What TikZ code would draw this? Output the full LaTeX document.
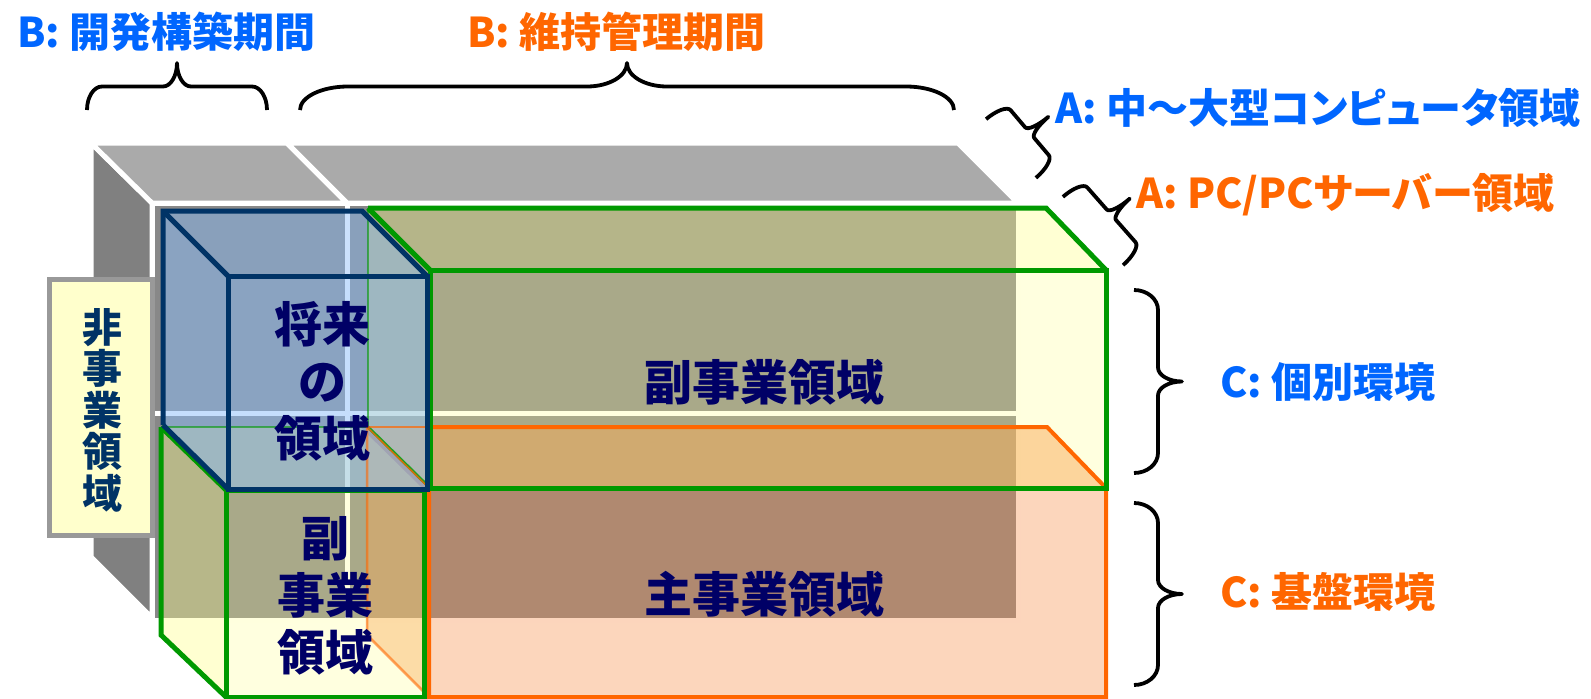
\documentclass[tikz,border=0pt]{standalone}
\usepackage{fontspec}
\newfontfamily\jp{Noto Sans CJK JP}
\newfontfamily\jpp[RawFeature=+palt]{Noto Sans CJK JP}
\definecolor{gLeft}{RGB}{128,128,128}
\definecolor{gTop}{RGB}{170,170,170}
\definecolor{gFront}{RGB}{136,136,136}
\definecolor{lblFill}{RGB}{255,255,204}
\definecolor{lblEdge}{RGB}{153,153,153}
\definecolor{oFill}{RGB}{247,140,70}
\definecolor{gFill}{RGB}{255,255,140}
\definecolor{bFill}{RGB}{140,190,250}
\definecolor{oEdge}{RGB}{255,102,0}
\definecolor{gEdge}{RGB}{0,153,0}
\definecolor{bEdge}{RGB}{0,51,102}
\definecolor{navyT}{RGB}{0,0,102}
\definecolor{navyL}{RGB}{0,51,102}
\definecolor{blueT}{RGB}{0,102,255}
\definecolor{orangeT}{RGB}{255,102,0}
\tikzset{
  grayface/.style={draw=white, line width=5pt},
  bracestyle/.style={draw=black, line width=3.8pt, line join=round},
  boxtext/.style={text=navyT, align=center, inner sep=0pt, font={\jp\bfseries\fontsize{48}{57}\selectfont}},
  lbl/.style={anchor=west, inner sep=0pt, font={\jp\bfseries\fontsize{41}{41}\selectfont}},
  lblp/.style={anchor=west, inner sep=0pt, font={\jpp\bfseries\fontsize{41}{41}\selectfont}},
  oline/.style={draw=oEdge, line width=4pt},
  gline/.style={draw=gEdge, line width=5pt},
  bline/.style={draw=bEdge, line width=5pt}
}
% cx, cy, angle, length, amplitude, end curl, middle curl
\newcommand{\drawbrace}[7]{%
  \pgfmathsetmacro\brEa{-(#4)/2}%
  \pgfmathsetmacro\brEb{-(#4)/2+0.448*(#6)}%
  \pgfmathsetmacro\brEc{-(#4)/2+(#6)}%
  \pgfmathsetmacro\brFa{(#4)/2}%
  \pgfmathsetmacro\brFb{(#4)/2-0.448*(#6)}%
  \pgfmathsetmacro\brFc{(#4)/2-(#6)}%
  \pgfmathsetmacro\brMl{-(#7)}%
  \pgfmathsetmacro\brMlb{-0.448*(#7)}%
  \pgfmathsetmacro\brMr{(#7)}%
  \pgfmathsetmacro\brMrb{0.448*(#7)}%
  \pgfmathsetmacro\brVa{-0.552*(#5)/2}%
  \pgfmathsetmacro\brVh{-(#5)/2}%
  \pgfmathsetmacro\brVt{-(#5)/2-0.448*(#5)/2}%
  \pgfmathsetmacro\brVtip{-(#5)}%
  \begin{scope}[shift={(#1,#2)}, rotate=#3]
    \draw[bracestyle] (\brEa,0) .. controls (\brEa,\brVa) and (\brEb,\brVh) .. (\brEc,\brVh)
      -- (\brMl,\brVh) .. controls (\brMlb,\brVh) and (0,\brVt) .. (0,\brVtip)
      .. controls (0,\brVt) and (\brMrb,\brVh) .. (\brMr,\brVh)
      -- (\brFc,\brVh) .. controls (\brFb,\brVh) and (\brFa,\brVa) .. (\brFa,0);
  \end{scope}}
\begin{document}
\begin{tikzpicture}[x=1pt,y=-1pt]
\useasboundingbox (0,0) rectangle (1591,699);
% ---- gray back structure
\filldraw[fill=gLeft, grayface] (91,143) -- (152,203) -- (152,618) -- (91,557) -- cycle;
\filldraw[fill=gTop, grayface] (91,143) -- (287,143) -- (347,203) -- (152,203) -- cycle;
\filldraw[fill=gTop, grayface] (287,143) -- (958,143) -- (1018,203) -- (347,203) -- cycle;
\filldraw[fill=gFront, grayface] (152,203) rectangle (347,413);
\filldraw[fill=gFront, grayface] (347,203) rectangle (1018,413);
\filldraw[fill=gFront, grayface] (152,413) rectangle (347,620);
\filldraw[fill=gFront, grayface] (347,413) rectangle (1018,620);
% ---- label box
\filldraw[fill=lblFill, draw=lblEdge, line width=5pt] (49.5,279.5) rectangle (152.5,535.5);
\node[text=navyL, align=center, inner sep=0pt, font={\jp\bfseries\fontsize{40}{41.5}\selectfont}] (nonbiz) at (102,410) {非\\事\\業\\領\\域};
% ---- orange box (main business)
\fill[oFill, fill opacity=0.36] (429,488) rectangle (1106,697);
\fill[oFill, fill opacity=0.5] (367,427) -- (1047,427) -- (1106,488) -- (429,488) -- cycle;
\fill[oFill, fill opacity=0.42] (367,427) -- (429,488) -- (429,697) -- (367,635) -- cycle;
% ---- lower green box
\fill[gFill, fill opacity=0.28] (226,490) rectangle (424,697);
\fill[gFill, fill opacity=0.35] (161,427) -- (360,427) -- (424,490) -- (226,490) -- cycle;
\fill[gFill, fill opacity=0.4] (161,427) -- (226,490) -- (226,697) -- (161,635) -- cycle;
% ---- upper green box
\fill[gFill, fill opacity=0.28] (430,270) rectangle (1106,488);
\fill[gFill, fill opacity=0.38] (368,208) -- (1046,208) -- (1106,270) -- (430,270) -- cycle;
\fill[gFill, fill opacity=0.35] (368,208) -- (430,270) -- (430,488) -- (368,427) -- cycle;
% ---- blue cube
\fill[bFill, fill opacity=0.5] (228,276) rectangle (427,489);
\fill[bFill, fill opacity=0.45] (163,211) -- (362,211) -- (427,276) -- (228,276) -- cycle;
\fill[bFill, fill opacity=0.5] (163,211) -- (228,276) -- (228,489) -- (163,425) -- cycle;
% ---- faint (hidden) edges
\draw[draw=gEdge, line width=2pt, opacity=0.6] (368,208) -- (368,427);
\draw[draw=gEdge, line width=2pt, opacity=0.6] (161,427) -- (368,427);
\draw[draw=gEdge, line width=3pt, opacity=0.8] (368,427) -- (430,488);
\draw[draw=oEdge, line width=2pt, opacity=0.7] (367,427) -- (430,427);
\draw[draw=oEdge, line width=1.5pt, opacity=0.8] (367,427) -- (429,488);
\draw[draw=oEdge, line width=2.5pt, opacity=0.6] (367,427) -- (367,635) -- (429,697);
% ---- strong edges
\draw[oline] (430,427) -- (1047,427) -- (1106,488) -- (1106,697) -- (429,697) -- (429,488) -- (1106,488);
\draw[gline] (226,490) rectangle (424,697);
\draw[gline] (161,427) -- (226,490);
\draw[gline] (161,427) -- (161,635) -- (226,697);
\draw[gline] (430,270) rectangle (1106,488);
\draw[gline] (368,208) -- (1046,208) -- (1106,270);
\draw[gline] (368,208) -- (430,270);
\draw[bline] (228,276) rectangle (427,489);
\draw[bline] (163,425) -- (163,211) -- (362,211) -- (427,276);
\draw[bline] (163,211) -- (228,276);
\draw[bline] (163,425) -- (228,489);
% ---- box texts
\node[boxtext] (future) at (322,381) {将来\\の\\領域};
\node[boxtext] (subleft) at (325,596) {副\\事業\\領域};
\node[boxtext] (sub) at (764,382) {副事業領域};
\node[boxtext] (main) at (764,594) {主事業領域};
% ---- braces
\drawbrace{177}{110}{0}{180}{47}{15}{14}
\drawbrace{627}{110}{0}{654}{47}{48}{40}
\drawbrace{1011}{148.5}{-49.7}{77}{49}{9}{7}
\drawbrace{1093}{231}{-48.6}{91}{49}{9}{7}
\drawbrace{1134}{381.5}{-90}{183}{48}{20}{14}
\drawbrace{1134}{594}{-90}{182}{48}{20}{14}
% ---- labels
\node[lbl, text=blueT] (bdev) at (17,32) {B: 開発構築期間};
\node[lbl, text=orangeT] (bmnt) at (467,32) {B: 維持管理期間};
\node[lblp, text=blueT] (alarge) at (1055,108) {A: 中〜大型コンピュータ領域};
\node[lblp, text=orangeT] (apc) at (1136,195) {A: PC/PCサーバー領域};
\node[lbl, text=blueT] (cind) at (1220,382) {C: 個別環境};
\node[lbl, text=orangeT] (cbase) at (1220,592) {C: 基盤環境};
\end{tikzpicture}
\end{document}
